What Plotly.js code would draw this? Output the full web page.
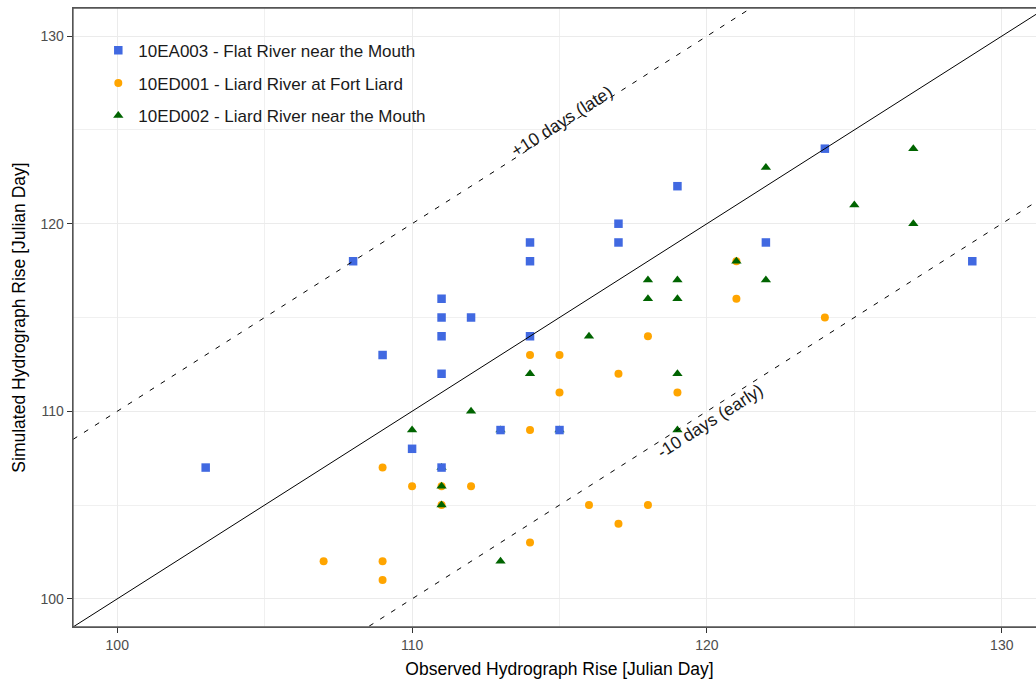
<!DOCTYPE html>
<html>
<head>
<meta charset="utf-8">
<script src="https://cdn.plot.ly/plotly-3.0.1.min.js"></script>
<style>
html, body { margin: 0; padding: 0; overflow: hidden; background: #ffffff; }
#chart { width: 1050px; height: 681px; }
</style>
</head>
<body>
<div id="chart"></div>
<script>
// ---- Data ----
const seriesNames = [
  "10EA003 - Flat River near the Mouth",
  "10ED001 - Liard River at Fort Liard",
  "10ED002 - Liard River near the Mouth"
];

const flatObs = [103,108,109,110,111,111,111,111,111,112,113,114,114,114,115,117,117,119,122,124,129];
const flatSim = [107,118,113,108,116,115,114,112,107,115,109,119,118,114,109,120,119,122,119,124,118];

const fortLiardObs = [107,109,109,109,110,111,111,112,114,114,114,115,115,116,117,117,118,118,119,121,121,124];
const fortLiardSim = [102,107,102,101,106,106,105,106,113,109,103,113,111,105,112,104,114,105,111,118,116,115];

const liardMouthObs = [110,111,111,111,112,113,113,114,115,116,118,118,119,119,119,119,121,122,122,125,127,127];
const liardMouthSim = [109,107,106,105,110,109,102,112,109,114,117,116,117,116,112,109,118,123,117,121,124,120];

const refOffsets = [0, 10, -10];
const refLabels = ["", "+10 days (late)", "-10 days (early)"];

const axisLimits = [98.5, 131.5];
const tickValues = [100, 110, 120, 130];

// ---- Traces ----
const colors = ["#4169E1", "#FFA500", "#006400"];
const symbols = ["square", "circle", "triangle-up"];
const sizes = [8.5, 8, 9];
const obsList = [flatObs, fortLiardObs, liardMouthObs];
const simList = [flatSim, fortLiardSim, liardMouthSim];
const drawOrder = [1, 2, 0]; // orange, green, then blue on top

const traces = [];
drawOrder.forEach(i => {
  traces.push({
    type: "scatter",
    mode: "markers",
    name: seriesNames[i],
    x: obsList[i],
    y: simList[i],
    legendgroup: "g" + i,
    legendrank: i + 1,
    marker: { color: colors[i], symbol: symbols[i], size: sizes[i], line: { width: 0 } },
    hoverinfo: "x+y+name"
  });
});

refOffsets.forEach((off) => {
  traces.push({
    type: "scatter",
    mode: "lines",
    x: axisLimits,
    y: axisLimits.map(v => v + off),
    showlegend: false,
    hoverinfo: "skip",
    line: { color: "#000000", width: 1, dash: off === 0 ? "solid" : "5px,8px" }
  });
});

const labelPos = [null, { x: 115.1, y: 125.45 }, { x: 120.1, y: 109.5 }];
const annotations = [];
refLabels.forEach((t, k) => {
  if (!t) return;
  annotations.push({
    text: t,
    x: labelPos[k].x,
    y: labelPos[k].y,
    xref: "x",
    yref: "y",
    showarrow: false,
    textangle: -32.5,
    font: { family: "Liberation Sans, Arial, sans-serif", size: 17.5, color: "#1a1a1a" }
  });
});

const tickFont = { family: "Liberation Sans, Arial, sans-serif", size: 14, color: "#4d4d4d" };
const titleFont = { family: "Liberation Sans, Arial, sans-serif", size: 17.5, color: "#000000" };

const axisCommon = {
  range: axisLimits,
  tickmode: "array",
  tickvals: tickValues,
  ticks: "outside",
  ticklen: 5,
  tickwidth: 1,
  tickcolor: "#333333",
  tickfont: tickFont,
  showgrid: true,
  gridcolor: "#ebebeb",
  gridwidth: 1,
  minor: { dtick: 5, tick0: 100, showgrid: true, gridcolor: "#f0f0f0", gridwidth: 1 },
  zeroline: false,
  showline: true,
  mirror: true,
  linecolor: "#555555",
  linewidth: 1.3,
  automargin: false
};

const layout = {
  width: 1050,
  height: 681,
  margin: { l: 73, r: 4, t: 8, b: 54 },
  paper_bgcolor: "#ffffff",
  plot_bgcolor: "#ffffff",
  font: { family: "Liberation Sans, Arial, sans-serif" },
  showlegend: true,
  legend: {
    x: 0.026,
    y: 0.96,
    xanchor: "left",
    yanchor: "top",
    bgcolor: "rgba(255,255,255,0)",
    font: { family: "Liberation Sans, Arial, sans-serif", size: 17, color: "#1a1a1a" },
    traceorder: "grouped",
    tracegroupgap: 7.5
  },
  xaxis: Object.assign({}, axisCommon, {
    title: { text: "Observed Hydrograph Rise [Julian Day]", font: titleFont, standoff: 10 }
  }),
  yaxis: Object.assign({}, axisCommon, {
    title: { text: "Simulated Hydrograph Rise [Julian Day]", font: titleFont, standoff: 10 }
  }),
  shapes: [{
    type: "rect", xref: "paper", yref: "paper", x0: 0, x1: 1, y0: 0, y1: 1,
    line: { color: "#555555", width: 1.3 }, fillcolor: "rgba(0,0,0,0)", layer: "above"
  }],
  annotations: annotations
};

Plotly.newPlot("chart", traces, layout, { displayModeBar: false, staticPlot: true });
</script>
</body>
</html>
